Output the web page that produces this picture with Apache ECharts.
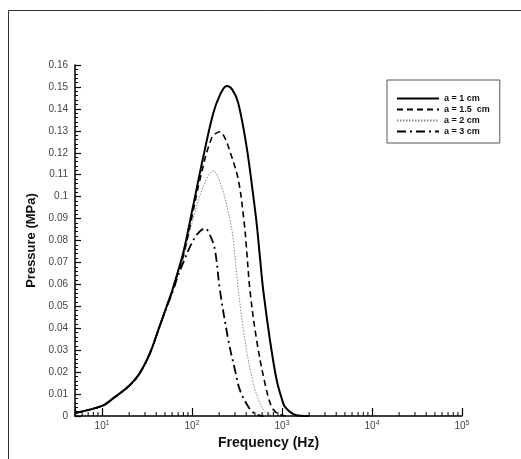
<!DOCTYPE html>
<html>
<head>
<meta charset="utf-8">
<script src="https://cdn.jsdelivr.net/npm/echarts@6/dist/echarts.min.js"></script>
<style>
  html, body { margin: 0; padding: 0; background: #fff; }
  #chart { width: 521px; height: 459px; }
</style>
</head>
<body>
<div id="chart"></div>
<script>
// curves: frequency (Hz) and pressure (MPa)
var freq1 = [5, 10, 13.3, 20, 26, 34, 42, 52, 60, 70, 80, 103, 133, 172, 205, 243, 280, 327, 404, 470, 522, 569, 618, 734, 871, 1000, 1077, 1333, 1600, 2000];
var pres1 = [0.0014, 0.0046, 0.0081, 0.0138, 0.0193, 0.0286, 0.039, 0.0498, 0.057, 0.0662, 0.0745, 0.096, 0.118, 0.138, 0.1465, 0.1504, 0.1488, 0.1425, 0.1227, 0.103, 0.0878, 0.072, 0.0574, 0.0346, 0.0164, 0.0075, 0.0042, 0.0009, 0.0001, 0];

var freq15 = [5, 10, 13.3, 20, 26, 34, 42, 52, 60, 70, 80, 100, 122, 165, 204, 230, 264, 327, 380, 400, 440, 522, 646, 766, 900, 1100];
var pres15 = [0.0014, 0.0046, 0.0081, 0.0138, 0.0193, 0.0286, 0.039, 0.0497, 0.0567, 0.0655, 0.073, 0.091, 0.1076, 0.1266, 0.1296, 0.127, 0.1205, 0.1076, 0.088, 0.078, 0.0574, 0.0346, 0.0149, 0.0042, 0.001, 0];

var freq2 = [5, 10, 13.3, 20, 26, 34, 42, 52, 60, 70, 80, 100, 133, 172, 213, 264, 287, 327, 387, 480, 593, 700, 850];
var pres2 = [0.0014, 0.0046, 0.0081, 0.0138, 0.0193, 0.0286, 0.039, 0.0496, 0.0565, 0.065, 0.072, 0.088, 0.1045, 0.1118, 0.1045, 0.0893, 0.0802, 0.0574, 0.0346, 0.0149, 0.0042, 0.001, 0];

var freq3 = [5, 10, 13.3, 20, 26, 34, 42, 52, 60, 70, 80, 95, 115, 139, 160, 180, 204, 253, 300, 340, 422, 500, 620];
var pres3 = [0.0014, 0.0046, 0.0081, 0.0138, 0.0193, 0.0286, 0.039, 0.0494, 0.056, 0.064, 0.07, 0.0772, 0.083, 0.0855, 0.082, 0.0755, 0.0574, 0.0346, 0.021, 0.0119, 0.0042, 0.001, 0];

var seriesNames = ['a = 1 cm', 'a = 1.5  cm', 'a = 2 cm', 'a = 3 cm'];
var minorTicksX = [6, 7, 8, 9, 20, 30, 40, 50, 60, 70, 80, 90, 200, 300, 400, 500, 600, 700, 800, 900,
  2000, 3000, 4000, 5000, 6000, 7000, 8000, 9000, 20000, 30000, 40000, 50000, 60000, 70000, 80000, 90000];

function pairs(xs, ys) {
  return xs.map(function (x, i) { return [x, ys[i]]; });
}

var FONT = 'Liberation Sans';
var chart = echarts.init(document.getElementById('chart'));

chart.setOption({
  animation: false,
  backgroundColor: '#fff',
  graphic: [{
    type: 'rect',
    shape: { x: 8.5, y: 10.5, width: 700, height: 700 },
    style: { fill: 'none', stroke: '#333', lineWidth: 1 },
    silent: true
  }],
  grid: { left: 75, right: 59, top: 65, bottom: 43 },
  legend: {
    orient: 'vertical',
    left: 387,
    top: 80,
    padding: [14, 10, 7, 9],
    itemWidth: 42,
    itemHeight: 8,
    itemGap: 2,
    itemTextGap: 6,
    borderColor: '#555',
    borderWidth: 1,
    backgroundColor: '#fff',
    itemStyle: { color: 'rgba(0,0,0,0)', borderColor: 'rgba(0,0,0,0)', borderWidth: 0, opacity: 0 },
    data: seriesNames,
    textStyle: { fontFamily: FONT, fontSize: 9, fontWeight: 'bold', color: '#111' }
  },
  xAxis: {
    type: 'log',
    logBase: 10,
    min: 5,
    max: 100000,
    name: 'Frequency (Hz)',
    nameLocation: 'middle',
    nameGap: 20,
    nameTextStyle: { fontFamily: FONT, fontSize: 14, fontWeight: 'bold', color: '#111' },
    axisLine: { lineStyle: { color: '#000', width: 1.5 } },
    axisTick: { inside: true, length: 8, lineStyle: { color: '#000', width: 1.2 } },
    minorTick: { show: false },
    splitLine: { show: false },
    axisLabel: {
      margin: 4,
      color: '#444',
      fontFamily: FONT,
      formatter: function (v) {
        var l = Math.log10(v);
        var e = Math.round(l);
        if (Math.abs(l - e) > 1e-6) return '';
        return '{b|10}{s|' + e + '}';
      },
      rich: {
        b: { fontFamily: FONT, fontSize: 10, color: '#444' },
        s: { fontFamily: FONT, fontSize: 7, color: '#444', padding: [0, 0, 6, 0] }
      }
    }
  },
  yAxis: {
    type: 'value',
    min: 0,
    max: 0.16,
    interval: 0.01,
    name: 'Pressure (MPa)',
    nameLocation: 'middle',
    nameGap: 33,
    nameTextStyle: { fontFamily: FONT, fontSize: 13, fontWeight: 'bold', color: '#111' },
    axisLine: { show: true, lineStyle: { color: '#000', width: 1.5 } },
    axisTick: { show: true, inside: true, length: 6, lineStyle: { color: '#000', width: 1.2 } },
    minorTick: { show: true, splitNumber: 5, length: 3, lineStyle: { color: '#000', width: 1 } },
    splitLine: { show: false },
    axisLabel: {
      margin: 7,
      color: '#444',
      fontFamily: FONT,
      fontSize: 10,
      formatter: function (v) { return v === 0 ? '0' : String(+v.toFixed(2)); }
    }
  },
  series: [
    {
      name: seriesNames[0], type: 'line', data: pairs(freq1, pres1),
      smooth: 0.35, symbol: 'none', z: 5,
      lineStyle: { color: '#000', width: 2, type: 'solid' },
      itemStyle: { color: '#000' }
    },
    {
      name: seriesNames[1], type: 'line', data: pairs(freq15, pres15),
      smooth: 0.35, symbol: 'none', z: 4,
      lineStyle: { color: '#000', width: 1.6, type: [6, 4] },
      itemStyle: { color: '#000' }
    },
    {
      name: seriesNames[2], type: 'line', data: pairs(freq2, pres2),
      smooth: 0.35, symbol: 'none', z: 3,
      lineStyle: { color: '#888', width: 1, type: [1.5, 1.5] },
      itemStyle: { color: '#888' }
    },
    {
      name: seriesNames[3], type: 'line', data: pairs(freq3, pres3),
      smooth: 0.35, symbol: 'none', z: 4,
      lineStyle: { color: '#000', width: 1.8, type: [9, 4, 2, 4] },
      itemStyle: { color: '#000' }
    },
    {
      name: 'minorTicks', type: 'custom', silent: true, z: 6,
      data: minorTicksX.map(function (v) { return [v, 0]; }),
      renderItem: function (params, api) {
        var p = api.coord([api.value(0), 0]);
        return {
          type: 'line',
          shape: { x1: p[0], y1: p[1], x2: p[0], y2: p[1] - 4 },
          style: { stroke: '#000', lineWidth: 1 }
        };
      }
    }
  ]
});
</script>
</body>
</html>
